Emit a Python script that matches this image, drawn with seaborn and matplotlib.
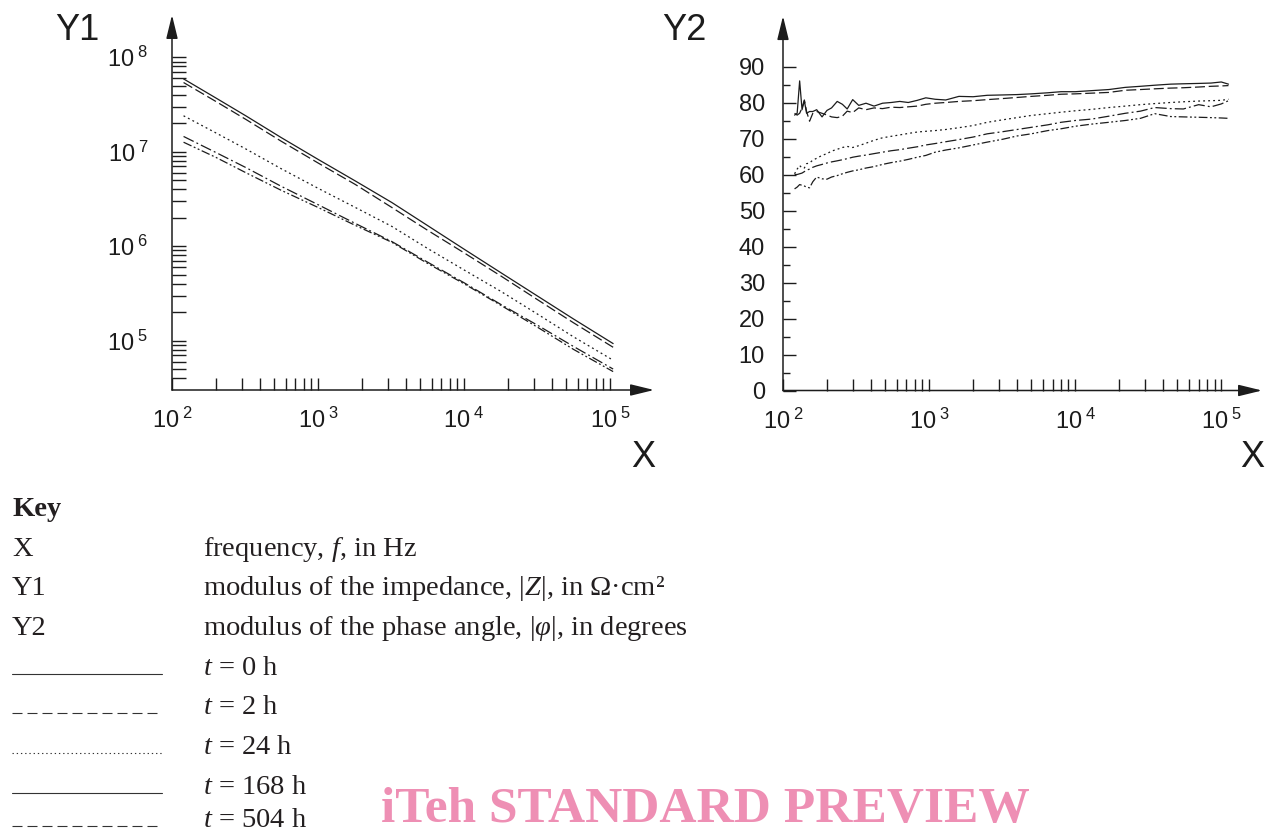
import numpy as np
import pandas as pd
import matplotlib
matplotlib.use("Agg")
import matplotlib.pyplot as plt
import seaborn as sns
from matplotlib.lines import Line2D
from matplotlib.ticker import FixedLocator, FuncFormatter, NullFormatter

# series labels
times = ["t = 0 h", "t = 2 h", "t = 24 h", "t = 168 h", "t = 504 h"]

# |Z| (Ohm cm2) vs frequency (Hz)
freq_z = [120, 200, 320, 560, 1000, 1800, 3200, 5600, 10000, 18000, 32000, 56000, 105000]
z_t0 = [5.9e7, 3.7e7, 2.4e7, 1.41e7, 8.3e6, 4.9e6, 2.9e6, 1.66e6, 9.3e5, 5.2e5, 2.95e5, 1.7e5, 9.3e4]
z_t2 = [5.4e7, 3.4e7, 2.2e7, 1.29e7, 7.6e6, 4.5e6, 2.57e6, 1.48e6, 8.5e5, 4.8e5, 2.7e5, 1.55e5, 8.5e4]
z_t24 = [2.4e7, 1.58e7, 1.07e7, 6.6e6, 4.1e6, 2.57e6, 1.62e6, 9.5e5, 5.6e5, 3.3e5, 1.9e5, 1.1e5, 6.2e4]
z_t168 = [1.45e7, 9.8e6, 6.8e6, 4.3e6, 2.75e6, 1.74e6, 1.12e6, 6.8e5, 4.1e5, 2.4e5, 1.45e5, 8.7e4, 5.0e4]
z_t504 = [1.26e7, 8.7e6, 6.0e6, 3.9e6, 2.57e6, 1.66e6, 1.10e6, 6.6e5, 4.0e5, 2.35e5, 1.38e5, 8.1e4, 4.7e4]

# |phi| (degrees) vs frequency (Hz)
freq_p = [120, 125, 130, 135, 140, 145, 152, 160, 170, 185, 200, 215, 235, 255, 275, 300,
          330, 370, 420, 480, 550, 630, 720, 830, 950, 1100, 1300, 1600, 2000, 2500, 3200,
          4000, 5000, 6500, 8000, 10000, 13000, 17000, 22000, 28000, 35000, 45000, 55000,
          70000, 85000, 100000, 112000]
p_t0 = [76.5, 77, 86, 78, 80.5, 77, 77.5, 77.5, 78, 76, 77.8, 78.5, 80.3, 79.5, 78.2, 80.8,
        79.2, 79.8, 79, 79.8, 80, 80.3, 80, 80.6, 81.3, 80.9, 80.7, 81.7, 81.6, 82, 82.1,
        82.2, 82.4, 82.7, 83, 83, 83.3, 83.6, 84.2, 84.5, 84.8, 85.1, 85.2, 85.3, 85.4, 85.7, 85.1]
p_t2 = [77, 76.5, 77, 78.5, 80.7, 77.5, 74.8, 77, 77.5, 77, 76.5, 76, 75.8, 76.2, 77.6, 77.2,
        78.5, 78, 78.5, 78.3, 78.7, 78.6, 78.8, 79, 79.5, 79.8, 80, 80.3, 80.5, 80.8, 81.1,
        81.4, 81.7, 82, 82.3, 82.4, 82.6, 82.8, 83.4, 83.6, 83.8, 84, 84.1, 84.3, 84.5, 84.6, 84.7]
p_t24 = [60.2, 61.5, 62.5, 61.8, 61.8, 63, 63.2, 64, 64.5, 65.3, 65.8, 66.5, 67, 67.5, 67.8, 67.5,
         68, 68.7, 69.5, 70.2, 70.6, 71, 71.4, 71.8, 72, 72.2, 72.5, 73, 73.6, 74.5, 75.2,
         75.8, 76.4, 76.9, 77.3, 77.7, 78.1, 78.6, 79, 79.4, 79.7, 80, 80.2, 80.4, 80.5, 80.6, 80.9]
p_t168 = [60, 60, 60.2, 60.4, 60.8, 61.2, 61.5, 62, 62.4, 62.8, 63.2, 63.5, 63.8, 64.1, 64.4, 64.8,
          65.1, 65.4, 65.8, 66.2, 66.6, 66.9, 67.3, 67.7, 68.2, 68.6, 69.1, 69.7, 70.4, 71.3, 71.9,
          72.5, 73.1, 73.8, 74.5, 75, 75.4, 76.2, 77, 77.6, 78.6, 78.3, 78.2, 79.4, 78.8, 79.6, 80.5]
p_t504 = [56, 56.5, 57.2, 57, 56.8, 56.5, 56.3, 58, 59.3, 58.8, 58.7, 59.3, 59.7, 60.2, 60.6, 61,
          61.3, 61.8, 62.2, 62.8, 63.3, 63.7, 64.2, 64.8, 65.3, 66.2, 66.8, 67.4, 68.2, 69, 69.8,
          70.7, 71.3, 72.2, 72.7, 73.4, 74, 74.5, 75, 75.6, 76.9, 76.1, 76, 75.9, 75.8, 75.7, 75.6]

# key rows
key_rows = [("X", "frequency, $\\mathit{f}$, in Hz"),
            ("Y1", "modulus of the impedance, |$\\mathit{Z}$|, in \u03a9\u00b7cm\u00b2"),
            ("Y2", "modulus of the phase angle, |$\\mathit{\u03c6}$|, in degrees")]
key_times = ["$\\mathit{t}$ = 0 h", "$\\mathit{t}$ = 2 h", "$\\mathit{t}$ = 24 h",
             "$\\mathit{t}$ = 168 h", "$\\mathit{t}$ = 504 h"]
# line samples as printed in the key (solid, dashed, dotted, solid, dashed)
key_dashes = ["", (9, 4.5), (1.2, 2.6), "", (9, 4.5)]

sns.set_style("white")
plt.rcParams["font.family"] = ["Liberation Sans", "DejaVu Sans"]
plt.rcParams["mathtext.fontset"] = "custom"
plt.rcParams["mathtext.rm"] = "Liberation Serif"
plt.rcParams["mathtext.it"] = "Liberation Serif:italic"

INK = "#1c1c1c"
W, H = 1265, 834

df_z = pd.DataFrame({"f": freq_z * 5,
                     "val": z_t0 + z_t2 + z_t24 + z_t168 + z_t504,
                     "t": np.repeat(times, len(freq_z))})
df_p = pd.DataFrame({"f": freq_p * 5,
                     "val": p_t0 + p_t2 + p_t24 + p_t168 + p_t504,
                     "t": np.repeat(times, len(freq_p))})

dash_map = {"t = 0 h": "", "t = 2 h": (8, 3), "t = 24 h": (1.5, 2.5),
            "t = 168 h": (9, 2.5, 1.5, 2.5), "t = 504 h": (7, 2, 1.5, 2, 1.5, 2)}

fig = plt.figure(figsize=(W / 100, H / 100), dpi=100)
ax1 = fig.add_axes([172 / W, 1 - 390 / H, 482 / W, 375 / H])
ax2 = fig.add_axes([783 / W, 1 - 390.5 / H, 479 / W, 374.4 / H])


def pow_label(v, pos):
    return r"$\mathregular{10^{\ %d}}$" % int(round(np.log10(v)))


def axis_arrows(ax):
    for s in ax.spines.values():
        s.set_visible(False)
    kw = dict(arrowstyle="-|>,head_length=0.9,head_width=0.22", color=INK, lw=1.1,
              shrinkA=0, shrinkB=0, mutation_scale=16)
    ax.annotate("", xy=(1, 0), xytext=(0, 0), xycoords="axes fraction", arrowprops=kw,
                annotation_clip=False)
    ax.annotate("", xy=(0, 1), xytext=(0, 0), xycoords="axes fraction", arrowprops=kw,
                annotation_clip=False)


for ax in (ax1, ax2):
    ax.set_xscale("log")
    ax.set_xlim(100, 2.0e5 if ax is ax1 else 1.9e5)
    ax.xaxis.set_major_locator(FixedLocator([1e2, 1e3, 1e4, 1e5]))
    ax.xaxis.set_minor_locator(FixedLocator([m * 10 ** e for e in (2, 3, 4) for m in range(2, 10)]))
    ax.xaxis.set_major_formatter(FuncFormatter(pow_label))
    ax.xaxis.set_minor_formatter(NullFormatter())
    ax.tick_params(axis="x", which="both", direction="in", length=9, width=1, color=INK,
                   labelsize=17, labelcolor=INK, pad=13, bottom=True, top=False)

# impedance
ax1.set_yscale("log")
sns.lineplot(data=df_z, x="f", y="val", style="t", dashes=dash_map, color=INK, linewidth=0.9,
             estimator=None, legend=False, ax=ax1)
ax1.set_ylim(3e4, 2.8e8)
ax1.yaxis.set_major_locator(FixedLocator([1e5, 1e6, 1e7, 1e8]))
ax1.yaxis.set_minor_locator(FixedLocator([m * 10 ** e for e in range(4, 8) for m in range(2, 10)
                                          if m * 10 ** e > 3e4]))
ax1.yaxis.set_major_formatter(FuncFormatter(pow_label))
ax1.yaxis.set_minor_formatter(NullFormatter())
ax1.tick_params(axis="y", which="both", direction="in", length=10, width=1, color=INK,
                labelsize=17, labelcolor=INK, pad=17, left=True, right=False)

# phase angle
sns.lineplot(data=df_p, x="f", y="val", style="t", dashes=dash_map, color=INK, linewidth=0.9,
             estimator=None, legend=False, ax=ax2)
ax2.set_ylim(0, 104)
ax2.yaxis.set_major_locator(FixedLocator(list(range(0, 91, 10))))
ax2.yaxis.set_minor_locator(FixedLocator(list(range(5, 90, 10))))
ax2.tick_params(axis="y", which="major", direction="in", length=9.5, width=1, color=INK,
                labelsize=17, labelcolor=INK, pad=13, left=True, right=False)
ax2.tick_params(axis="y", which="minor", direction="in", length=5, width=1, color=INK,
                left=True, right=False)

for ax in (ax1, ax2):
    ax.set_xlabel("")
    ax.set_ylabel("")
    ax.grid(False)
    axis_arrows(ax)

# axis names
big = dict(fontsize=26, color=INK, ha="center", va="center")
fig.text(77 / W, 1 - 31 / H, "Y1", **big)
fig.text(684 / W, 1 - 31 / H, "Y2", **big)
fig.text(643 / W, 1 - 457 / H, "X", **big)
fig.text(1252 / W, 1 - 457 / H, "X", **big)

# key block
serif = dict(family=["Liberation Serif", "DejaVu Serif"], fontsize=20.5, color="#231f20",
             va="baseline")
fig.text(12 / W, 1 - 516 / H, "Key", fontweight="bold", **serif)
baselines = [556, 595, 635, 675, 714, 754, 794, 827]
for (name, desc), yb in zip(key_rows, baselines[:3]):
    fig.text(12 / W, 1 - yb / H, name, **serif)
    fig.text(203 / W, 1 - yb / H, desc, **serif)
for lab, dsh, yb in zip(key_times, key_dashes, baselines[3:]):
    fig.text(203 / W, 1 - yb / H, lab, **serif)
    ln = Line2D([12 / W, 162 / W], [1 - (yb - 1) / H] * 2, transform=fig.transFigure,
                color="#333333", lw=0.8)
    if dsh:
        ln.set_dashes(dsh)
    fig.add_artist(ln)

fig.text(705 / W, 1 - 822 / H, "iTeh STANDARD PREVIEW", family=["Liberation Serif"],
         fontweight="bold", fontsize=37, color="#ee8fb4", ha="center", va="baseline")

fig.savefig("out.png", dpi=100)
